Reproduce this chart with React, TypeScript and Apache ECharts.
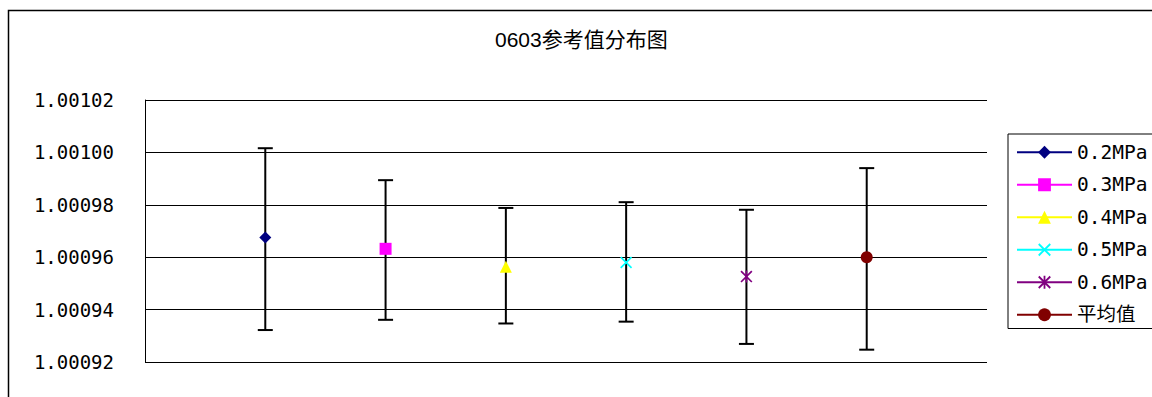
import React, { useEffect, useRef } from "react";
import * as echarts from "echarts";

const titleText = "0603参考值分布图";
const categories = ["0.2MPa", "0.3MPa", "0.4MPa", "0.5MPa", "0.6MPa", "平均值"];
const xPositions = [1, 2, 3, 4, 5, 6];
const values = [1.0009675, 1.0009632, 1.0009564, 1.000958, 1.0009526, 1.00096];
const upper = [1.0010016, 1.0009894, 1.0009788, 1.000981, 1.0009781, 1.000994];
const lower = [1.0009322, 1.0009361, 1.0009347, 1.0009354, 1.0009269, 1.0009247];
const colors = ["#000080", "#FF00FF", "#FFFF00", "#00FFFF", "#800080", "#800000"];

const X_PATH =
  "path://M0,1 L1,0 L10,9 L9,10 Z M10,1 L1,10 L0,9 L9,0 Z";
const STAR_PATH =
  "path://M0,1 L1,0 L10,9 L9,10 Z M10,1 L1,10 L0,9 L9,0 Z M4.3,0 L5.7,0 L5.7,10 L4.3,10 Z";
const symbols = ["diamond", "rect", "triangle", X_PATH, STAR_PATH, "circle"];

export default function App() {
  const ref = useRef<HTMLDivElement>(null);
  useEffect(() => {
    if (!ref.current) return;
    const chart = echarts.init(ref.current, null, { renderer: "svg" });

    const markerSeries = categories.map((name, i) => ({
      name,
      type: "line",
      data: [[xPositions[i], values[i]]],
      symbol: symbols[i],
      symbolSize: 12,
      showSymbol: true,
      color: colors[i],
      itemStyle: { color: colors[i] },
      lineStyle: { color: colors[i], width: 2 },
      z: 5,
    }));

    const errorData = xPositions.map((x, i) => [x, lower[i], upper[i]]);

    chart.setOption({
      animation: false,
      backgroundColor: "#ffffff",
      title: {
        text: titleText,
        left: 495,
        top: 29,
        padding: 0,
        textStyle: {
          fontFamily: "'Liberation Sans', 'Noto Sans CJK SC', sans-serif",
          fontSize: 21,
          fontWeight: "normal",
          color: "#000",
        },
      },
      graphic: [
        {
          type: "rect",
          shape: { x: 8.5, y: 10.5, width: 1300, height: 600 },
          style: { fill: "none", stroke: "#000", lineWidth: 1.5 },
          silent: true,
          z: 100,
        },
      ],
      legend: {
        orient: "vertical",
        left: 1008,
        top: 134,
        padding: [8.5, 20, 4, 8],
        itemGap: 13,
        itemWidth: 55,
        itemHeight: 16,
        borderColor: "#000",
        borderWidth: 1,
        data: categories,
        textStyle: {
          fontFamily: "'DejaVu Sans Mono', 'Noto Sans CJK SC', monospace",
          fontSize: 19.5,
          lineHeight: 19,
          color: "#000",
        },
        lineStyle: { width: 2 },
      },
      grid: {
        left: 145,
        top: 100,
        right: 165,
        bottom: 35,
        containLabel: false,
        outerBoundsMode: "none",
      },
      xAxis: {
        type: "value",
        min: 0,
        max: 7,
        interval: 1,
        axisLine: { show: false },
        axisTick: { show: false },
        axisLabel: { show: false },
        splitLine: { show: false },
      },
      yAxis: {
        type: "value",
        min: 1.00092,
        max: 1.00102,
        interval: 0.00002,
        axisLine: { show: true, lineStyle: { color: "#000", width: 1 } },
        axisTick: { show: false },
        axisLabel: {
          margin: 31,
          color: "#000",
          fontFamily: "'DejaVu Sans Mono', monospace",
          fontSize: 19,
          formatter: (v: number) => v.toFixed(5),
        },
        splitLine: { show: true, lineStyle: { color: "#000", width: 1 } },
      },
      series: [
        {
          type: "custom",
          name: "errorbars",
          z: 2,
          data: errorData,
          encode: { x: 0, y: [1, 2] },
          renderItem: (params: any, api: any) => {
            const x = api.value(0);
            const lo = api.coord([x, api.value(1)]);
            const hi = api.coord([x, api.value(2)]);
            const hw = 7.5;
            const style = { stroke: "#000", lineWidth: 2 };
            return {
              type: "group",
              children: [
                { type: "line", shape: { x1: lo[0], y1: lo[1], x2: hi[0], y2: hi[1] }, style },
                { type: "line", shape: { x1: hi[0] - hw, y1: hi[1], x2: hi[0] + hw, y2: hi[1] }, style },
                { type: "line", shape: { x1: lo[0] - hw, y1: lo[1], x2: lo[0] + hw, y2: lo[1] }, style },
              ],
            };
          },
        },
        ...markerSeries,
      ],
    });
    return () => chart.dispose();
  }, []);

  return (
    <div
      ref={ref}
      style={{ position: "fixed", left: 0, top: 0, width: 1152, height: 397 }}
    />
  );
}
